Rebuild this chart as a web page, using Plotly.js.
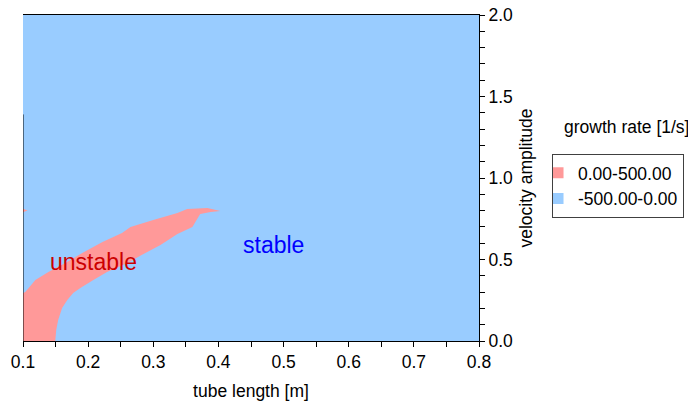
<!DOCTYPE html>
<html>
<head>
<meta charset="utf-8">
<script src="https://cdn.plot.ly/plotly-3.0.1.min.js"></script>
<style>html,body{margin:0;padding:0;background:#fff}#chart{width:688px;height:403px}</style>
</head>
<body>
<div id="chart"></div>
<script>
// Stable region (whole domain): growth rate -500..0
const stableX = [0.1, 0.8, 0.8, 0.1];
const stableY = [0.0, 0.0, 2.0, 2.0];

// Unstable region boundary (growth rate 0..500)
const lowerX = [0.100, 0.1495, 0.151, 0.154, 0.160, 0.168, 0.177, 0.188, 0.208, 0.229, 0.260, 0.285, 0.311, 0.337, 0.360, 0.372, 0.388, 0.403];
const lowerY = [0.000, 0.000, 0.067, 0.129, 0.202, 0.252, 0.294, 0.325, 0.374, 0.423, 0.479, 0.534, 0.589, 0.656, 0.699, 0.779, 0.791, 0.798];
const upperX = [0.383, 0.352, 0.337, 0.300, 0.265, 0.252, 0.222, 0.191, 0.165, 0.139, 0.119, 0.1035, 0.100];
const upperY = [0.816, 0.810, 0.785, 0.742, 0.699, 0.663, 0.607, 0.540, 0.479, 0.423, 0.374, 0.300, 0.294];

// small unstable sliver on the left edge
const sliverX = [0.100, 0.107, 0.100];
const sliverY = [0.790, 0.800, 0.812];

const legendNames = ["0.00-500.00", "-500.00-0.00"];
const legendColors = ["#ff9999", "#99ccff"];

const labelText = ["unstable", "stable"];
const labelX = [0.2086, 0.485];
const labelY = [0.485, 0.589];
const labelColors = ["#cc0000", "#0000ff"];

const FONT = "Arial, 'Liberation Sans', sans-serif";
const FS = 17.5;

const unstableX = lowerX.concat(upperX);
const unstableY = lowerY.concat(upperY);

const traces = [
  {x: stableX, y: stableY, type: "scatter", mode: "none", fill: "toself", fillcolor: legendColors[1], showlegend: false, hoverinfo: "skip"},
  {x: unstableX, y: unstableY, type: "scatter", mode: "none", fill: "toself", fillcolor: legendColors[0], showlegend: false, hoverinfo: "skip"},
  {x: sliverX, y: sliverY, type: "scatter", mode: "none", fill: "toself", fillcolor: legendColors[0], showlegend: false, hoverinfo: "skip"},
  {x: [null], y: [null], type: "scatter", mode: "markers", name: legendNames[0], marker: {symbol: "square", size: 11, color: legendColors[0]}},
  {x: [null], y: [null], type: "scatter", mode: "markers", name: legendNames[1], marker: {symbol: "square", size: 11, color: legendColors[1]}}
];

const annotations = labelText.map((t, i) => ({
  x: labelX[i], y: labelY[i], xref: "x", yref: "y", text: t, showarrow: false,
  font: {family: FONT, size: 23, color: labelColors[i]}, xanchor: "center", yanchor: "middle"
}));
annotations.push({
  x: 1.182, y: 0.656, xref: "paper", yref: "paper", text: "growth rate [1/s]", showarrow: false,
  font: {family: FONT, size: FS, color: "#000"}, xanchor: "left", yanchor: "middle"
});

const layout = {
  width: 688, height: 403,
  margin: {l: 23, r: 209, t: 15, b: 62, autoexpand: false},
  paper_bgcolor: "#ffffff",
  plot_bgcolor: "#ffffff",
  font: {family: FONT, size: FS, color: "#000"},
  xaxis: {
    range: [0.1, 0.8], tick0: 0.1, dtick: 0.1, tickformat: ".1f",
    ticks: "outside", ticklen: 5, tickcolor: "#000", tickwidth: 1,
    minor: {dtick: 0.05, tick0: 0.1, ticks: "outside", ticklen: 5, tickcolor: "#000"},
    showline: true, linecolor: "#000", linewidth: 1, mirror: true,
    showgrid: false, zeroline: false, automargin: false,
    title: {text: "tube length [m]", font: {family: FONT, size: FS}, standoff: 13},
    tickfont: {family: FONT, size: FS}
  },
  yaxis: {
    side: "right", range: [0, 2], tick0: 0, dtick: 0.5, tickformat: ".1f",
    ticks: "outside", ticklen: 5, tickcolor: "#000", tickwidth: 1,
    minor: {dtick: 0.1, tick0: 0, ticks: "outside", ticklen: 5, tickcolor: "#000"},
    showline: true, linecolor: "#000", linewidth: 1,
    showgrid: false, zeroline: false, automargin: false,
    title: {text: "velocity amplitude", font: {family: FONT, size: FS}, standoff: 7},
    tickfont: {family: FONT, size: FS}
  },
  shapes: [
    {type: "line", xref: "x", yref: "y", x0: 0.1, x1: 0.1, y0: 0, y1: 1.39, line: {color: "#000", width: 1}}
  ],
  legend: {
    x: 1.4496, y: 0.574, xanchor: "right", yanchor: "top",
    bordercolor: "#404040", borderwidth: 1, bgcolor: "#fff",
    font: {family: FONT, size: FS}, indentation: -15, itemwidth: 30
  },
  annotations: annotations,
  showlegend: true
};

Plotly.newPlot("chart", traces, layout, {displayModeBar: false, staticPlot: true});
</script>
</body>
</html>
